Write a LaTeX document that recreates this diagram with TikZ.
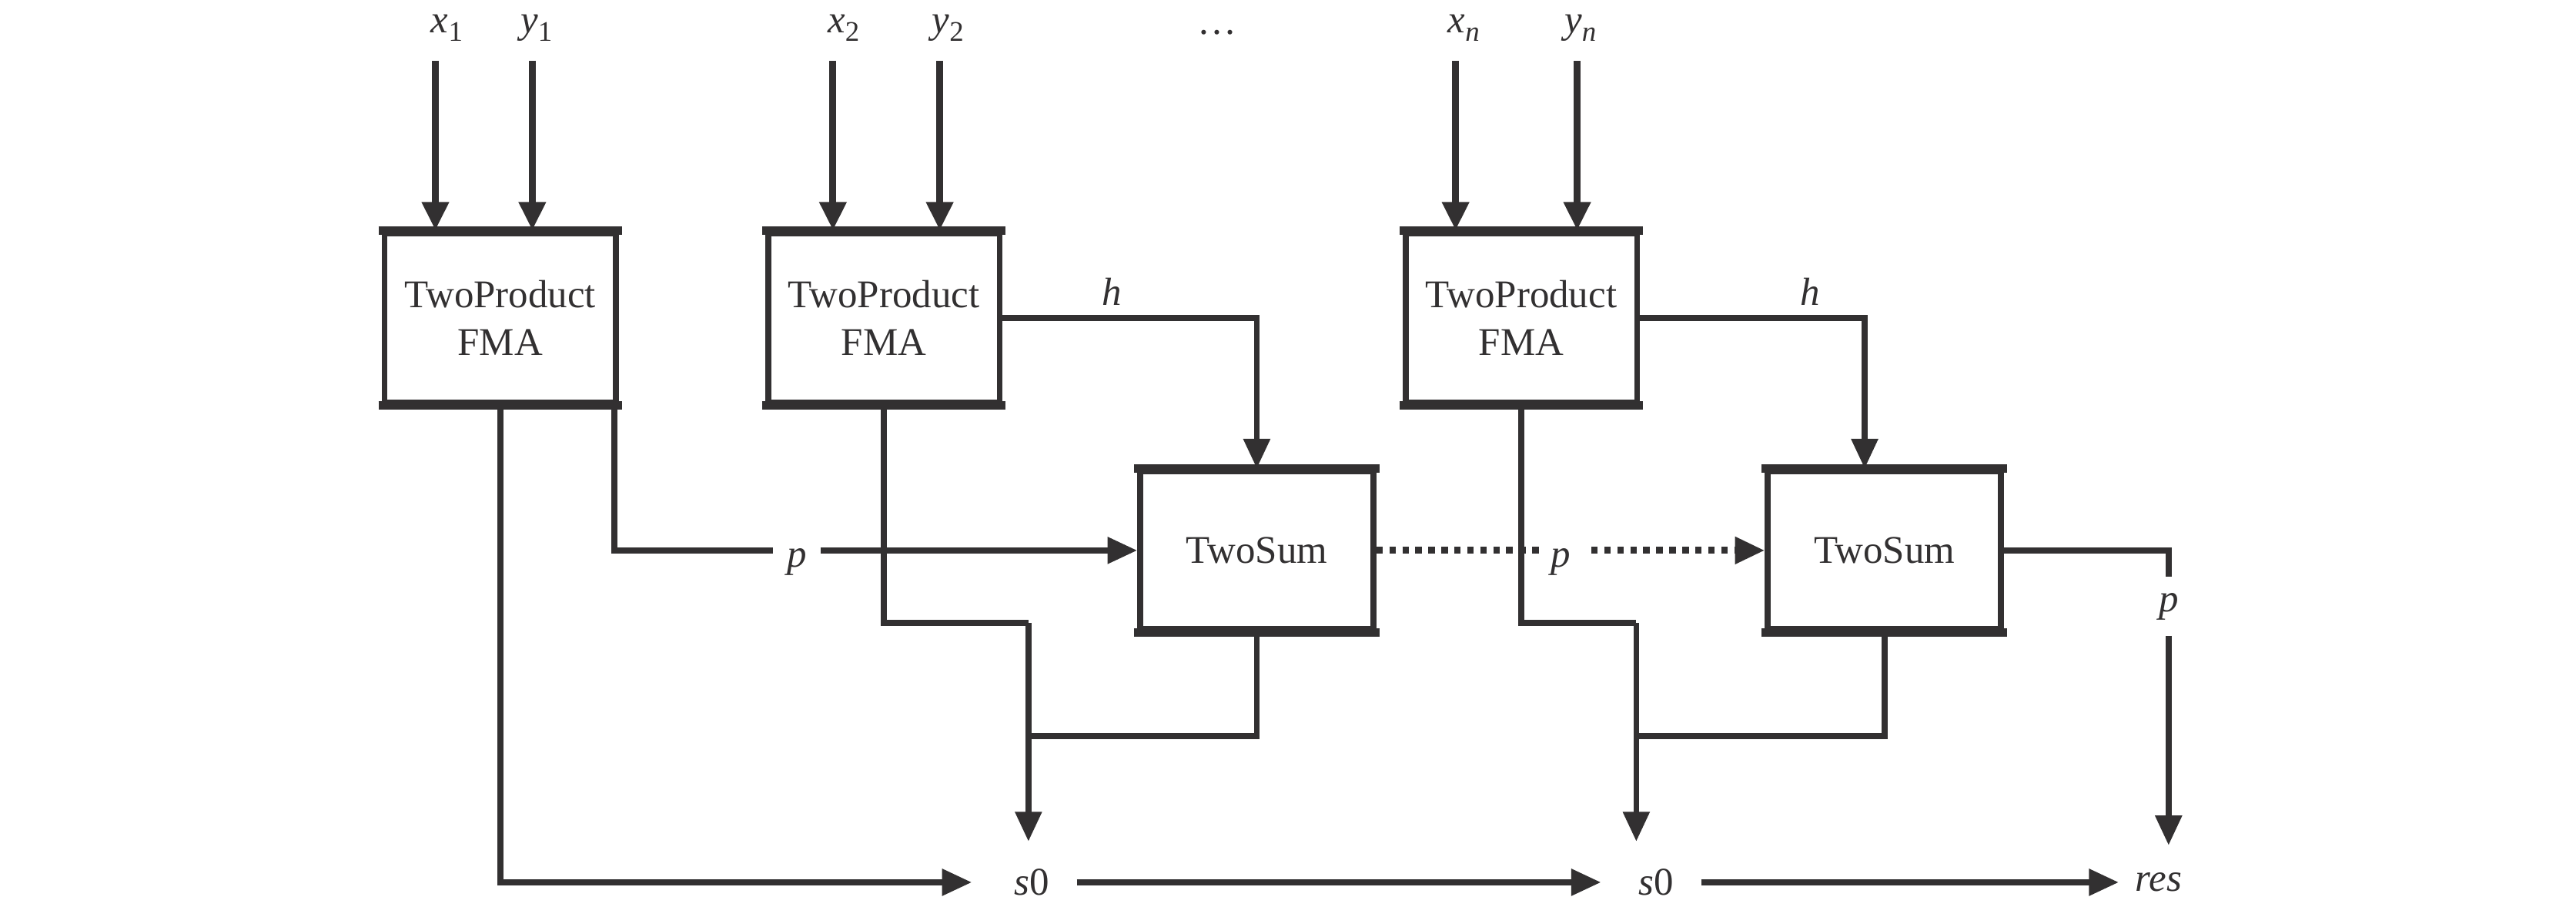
\documentclass[tikz,border=0pt]{standalone}
\usepackage{fontspec}
\setmainfont{Liberation Serif}
\usetikzlibrary{arrows.meta,calc}
\definecolor{ink}{HTML}{323031}
\newcommand{\sbs}[1]{\raisebox{-3.2pt}{\fontsize{10.5}{10.5}\selectfont #1}}
\begin{document}
\begin{tikzpicture}[x=0.02134cm,y=-0.02134cm,
  every node/.style={font=\fontsize{14.5}{17.8}\selectfont, text=ink},
  lbl/.style={inner sep=0pt},
  blk/.style={draw=ink, line width=2.2pt, rectangle, inner sep=0pt, align=center,
     minimum width=3.009cm, minimum height=2.198cm},
  sumblk/.style={blk, minimum width=3.03cm, minimum height=2.049cm},
  edge/.style={draw=ink, line width=3.2pt, shorten <=-1.1pt, shorten >=-1.1pt},
  ln/.style={draw=ink, line width=2.2pt},
  tip/.style={-{Triangle[length=11pt,width=9.5pt]}},
  arr/.style={ln, tip},
  inarr/.style={draw=ink, line width=2.6pt, -{Triangle[length=10.5pt,width=9.5pt]}},
  dotln/.style={draw=ink, line width=2.6pt, dash pattern=on 2.4pt off 2.4pt}]
\useasboundingbox (0,0) rectangle (1568,552);

% blocks
\node[blk] (b1) at (304.5,193.5) {TwoProduct\\FMA};
\node[blk] (b2) at (538,193.5) {TwoProduct\\FMA};
\node[blk] (b3) at (926,193.5) {TwoProduct\\FMA};
\node[sumblk] (ts1) at (765,335) {TwoSum};
\node[sumblk] (ts2) at (1147,335) {TwoSum};
\foreach \b in {b1,b2,b3,ts1,ts2}{
  \draw[edge] (\b.north west) -- (\b.north east);
  \draw[edge] (\b.south west) -- (\b.south east);
}

% input labels
\node[lbl, anchor=base] (lx1) at (272,20) {\textit{x}\sbs{1}};
\node[lbl, anchor=base] (ly1) at (326.5,20) {\textit{y}\sbs{1}};
\node[lbl, anchor=base] (lx2) at (513.5,20) {\textit{x}\sbs{2}};
\node[lbl, anchor=base] (ly2) at (577,20) {\textit{y}\sbs{2}};
\node[lbl, anchor=base] (ldots) at (741,21) {\dots};
\node[lbl, anchor=base] (lxn) at (891,20) {\textit{x}\sbs{\textit{n}}};
\node[lbl, anchor=base] (lyn) at (962,20) {\textit{y}\sbs{\textit{n}}};

% input arrows
\coordinate (sx1) at (265,37);
\coordinate (sy1) at (324,37);
\coordinate (sx2) at (507,37);
\coordinate (sy2) at (572,37);
\coordinate (sxn) at (886,37);
\coordinate (syn) at (960,37);
\draw[inarr] (sx1) -- (sx1 |- b1.north);
\draw[inarr] (sy1) -- (sy1 |- b1.north);
\draw[inarr] (sx2) -- (sx2 |- b2.north);
\draw[inarr] (sy2) -- (sy2 |- b2.north);
\draw[inarr] (sxn) -- (sxn |- b3.north);
\draw[inarr] (syn) -- (syn |- b3.north);

% bottom outputs
\node[lbl] (s0a) at (628,537) {\textit{s}0};
\node[lbl] (s0b) at (1008,537) {\textit{s}0};
\node[lbl] (res) at (1314,537) {\textit{res}};

% labels on lines
\node[lbl, anchor=base, inner xsep=5pt] (p1) at (485,345) {\textit{p}};
\node[lbl, anchor=base, inner xsep=2.5pt] (p2) at (950,345) {\textit{p}};
\node[lbl, inner ysep=5.8pt] (p3) at (1320,369) {\textit{p}};
\node[lbl, anchor=base] (h1) at (677,186) {\textit{h}};
\node[lbl, anchor=base] (h2) at (1102,186) {\textit{h}};

% stage 1
\draw[arr, shorten >=15.5pt] (b1.south) |- (s0a.west);
\draw[ln] ($(b1.south east)+(-3,0)$) |- (ts1.west -| p1.west);
\draw[arr] (ts1.west -| p1.east) -- (ts1.west);

% stage 2
\coordinate (hc1) at (765,193.5);
\draw[arr] (b2.east) -- (hc1) -- (ts1.north);
\coordinate (j1) at (626,379);
\coordinate (k1) at (626,448);
\draw[ln] (b2.south) |- (j1);
\draw[arr, shorten >=10pt] (j1) -- (j1 |- s0a.north);
\draw[ln] (ts1.south) |- (k1);
\draw[dotln] (ts1.east) -- (ts1.east -| p2.west);
\draw[dotln, tip, shorten <=5pt] (ts1.east -| p2.east) -- (ts2.west);

% stage n
\coordinate (hc2) at (1135,193.5);
\draw[arr] (b3.east) -- (hc2) -- (hc2 |- ts2.north);
\coordinate (j2) at (996,379);
\coordinate (k2) at (996,448);
\draw[ln] (b3.south) |- (j2);
\draw[arr, shorten >=10pt] (j2) -- (j2 |- s0b.north);
\draw[ln] (ts2.south) |- (k2);
\draw[ln] (ts2.east) -| (p3.north);
\draw[arr, shorten >=10pt] (p3.south) -- (p3.south |- res.north);

% bottom chain
\draw[arr, shorten <=10pt, shorten >=13.7pt] (s0a.east) -- (s0b.west);
\draw[arr, shorten <=10pt, shorten >=6pt] (s0b.east) -- (res.west);
\end{tikzpicture}
\end{document}
